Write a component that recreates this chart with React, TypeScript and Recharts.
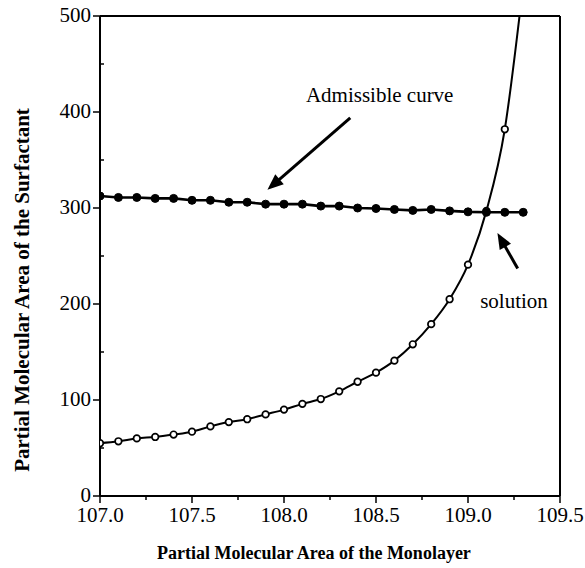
import { LineChart, Line, XAxis, YAxis, ReferenceLine, ReferenceDot } from 'recharts'

const SERIF = '"Liberation Serif", "Times New Roman", serif'

// open circles: partial molecular area of the surfactant vs monolayer
const monolayerX = [
  107.0, 107.1, 107.2, 107.3, 107.4, 107.5, 107.6, 107.7, 107.8, 107.9, 108.0, 108.1,
  108.2, 108.3, 108.4, 108.5, 108.6, 108.7, 108.8, 108.9, 109.0, 109.1, 109.2,
]
const surfactantY = [
  55, 57, 60, 61.5, 64, 67, 72.5, 77, 80, 85, 90, 96,
  101, 109, 119, 128.5, 141, 158, 179, 205, 241, 297, 382,
]
// where the fitted curve leaves the frame at the top
const curveExit = { x: 109.28, y: 500 }

// filled circles: admissible curve
const admissibleX = [
  107.0, 107.1, 107.2, 107.3, 107.4, 107.5, 107.6, 107.7, 107.8, 107.9, 108.0, 108.1,
  108.2, 108.3, 108.4, 108.5, 108.6, 108.7, 108.8, 108.9, 109.0, 109.1, 109.2, 109.3,
]
const admissibleY = [
  312.5, 311, 311, 310, 310, 308, 308, 306, 306, 304, 304, 304,
  302, 302, 300, 299.5, 298.5, 297.5, 298.5, 297, 296, 295.5, 295.5, 295.5,
]

const xTicks = [107, 107.25, 107.5, 107.75, 108, 108.25, 108.5, 108.75, 109, 109.25, 109.5]
const yTicks = [0, 50, 100, 150, 200, 250, 300, 350, 400, 450, 500]

const curveData = [
  ...monolayerX.map((x, i) => ({ x, y: surfactantY[i] })),
  curveExit,
]
const admissibleData = admissibleX.map((x, i) => ({ x, y: admissibleY[i] }))

function XTick({ x, y, payload }: any) {
  const v = payload.value
  const major = Math.abs(v * 2 - Math.round(v * 2)) < 1e-6
  return (
    <g>
      <line x1={x} x2={x} y1={y} y2={y + (major ? 7 : 4)} stroke="#000" strokeWidth={1.5} />
      {major && (
        <text x={x} y={y + 26} textAnchor="middle" fontSize={21} fontFamily={SERIF} fill="#000">
          {v.toFixed(1)}
        </text>
      )}
    </g>
  )
}

function YTick({ x, y, payload }: any) {
  const v = payload.value
  const major = v % 100 === 0
  return (
    <g>
      {major ? (
        <line x1={x - 7} x2={x} y1={y} y2={y} stroke="#000" strokeWidth={1.5} />
      ) : (
        <line x1={x} x2={x + 4} y1={y} y2={y} stroke="#000" strokeWidth={1.5} />
      )}
      {major && (
        <text x={x - 9} y={y + 6} textAnchor="end" fontSize={21} fontFamily={SERIF} fill="#000">
          {v}
        </text>
      )}
    </g>
  )
}

function Arrow(props: any) {
  const { x1, y1, x2, y2 } = props
  const dx = x2 - x1
  const dy = y2 - y1
  const len = Math.hypot(dx, dy)
  const ux = dx / len
  const uy = dy / len
  const hl = 16
  const hw = 6.5
  const bx = x2 - ux * hl
  const by = y2 - uy * hl
  return (
    <g>
      <line x1={x1} y1={y1} x2={bx + ux * 2} y2={by + uy * 2} stroke="#000" strokeWidth={3} />
      <polygon
        points={`${x2},${y2} ${bx - uy * hw},${by + ux * hw} ${bx + uy * hw},${by - ux * hw}`}
        fill="#000"
      />
    </g>
  )
}

function openDot(props: any) {
  const { cx, cy, index } = props
  if (index >= monolayerX.length) return <g key={`o${index}`} />
  return <circle key={`o${index}`} cx={cx} cy={cy} r={3.3} fill="#fff" stroke="#000" strokeWidth={1.7} />
}

const note = (text: string) => (p: any) => (
  <text x={p.cx} y={p.cy} textAnchor="middle" fontSize={21} fontFamily={SERIF} fill="#000">
    {text}
  </text>
)

export default function App() {
  return (
    <div style={{ position: 'absolute', left: 0, top: 0, background: '#fff' }}>
      <LineChart width={585} height={568} margin={{ top: 16, right: 25, bottom: 0, left: 0 }}>
        <XAxis
          dataKey="x"
          type="number"
          domain={[107, 109.5]}
          allowDataOverflow
          ticks={xTicks}
          interval={0}
          tick={<XTick />}
          tickLine={false}
          tickSize={0}
          tickMargin={0}
          height={72}
          axisLine={{ stroke: '#000', strokeWidth: 2 }}
          label={{
            content: (p: any) => (
              <text
                x={p.viewBox.x + p.viewBox.width / 2 - 16}
                y={p.viewBox.y + 63}
                textAnchor="middle"
                fontSize={18}
                fontWeight="bold"
                fontFamily={SERIF}
                fill="#000"
              >
                Partial Molecular Area of the Monolayer
              </text>
            ),
          }}
        />
        <YAxis
          dataKey="y"
          type="number"
          domain={[0, 500]}
          allowDataOverflow
          ticks={yTicks}
          interval={0}
          tick={<YTick />}
          tickLine={false}
          tickSize={0}
          tickMargin={0}
          width={100}
          axisLine={{ stroke: '#000', strokeWidth: 2 }}
          label={{
            content: (p: any) => {
              const cx = 22
              const cy = p.viewBox.y + p.viewBox.height / 2 + 34
              return (
                <text
                  x={cx}
                  y={cy}
                  transform={`rotate(-90 ${cx} ${cy})`}
                  textAnchor="middle"
                  dominantBaseline="central"
                  fontSize={21}
                  fontWeight="bold"
                  fontFamily={SERIF}
                  fill="#000"
                >
                  Partial Molecular Area of the Surfactant
                </text>
              )
            },
          }}
        />
        <ReferenceLine y={500} stroke="#000" strokeWidth={2} ifOverflow="visible" />
        <ReferenceLine x={109.5} stroke="#000" strokeWidth={2} ifOverflow="visible" />
        <Line
          data={curveData}
          dataKey="y"
          type="monotone"
          stroke="#000"
          strokeWidth={2}
          dot={openDot}
          activeDot={false}
          isAnimationActive={false}
        />
        <Line
          data={admissibleData}
          dataKey="y"
          type="linear"
          stroke="#000"
          strokeWidth={2.6}
          dot={{ r: 4, fill: '#000', stroke: '#000', strokeWidth: 1 }}
          activeDot={false}
          isAnimationActive={false}
        />
        <ReferenceLine
          segment={[{ x: 108.36, y: 394 }, { x: 107.91, y: 319 }]}
          shape={Arrow}
          ifOverflow="visible"
        />
        <ReferenceLine
          segment={[{ x: 109.27, y: 237 }, { x: 109.16, y: 274 }]}
          shape={Arrow}
          ifOverflow="visible"
        />
        <ReferenceDot x={108.52} y={410} r={0} shape={note('Admissible curve')} ifOverflow="visible" />
        <ReferenceDot x={109.25} y={195.5} r={0} shape={note('solution')} ifOverflow="visible" />
      </LineChart>
    </div>
  )
}
